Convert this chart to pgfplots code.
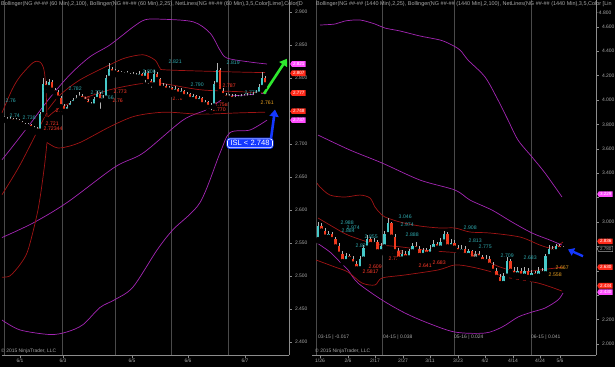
\documentclass[border=0pt]{standalone}
\usepackage{fontspec}
\setmainfont{Liberation Sans}
\usepackage{pgfplots}
\usepackage{pgfplotstable}
\pgfplotsset{compat=1.18}
\usetikzlibrary{shapes.symbols,arrows.meta}

\definecolor{axgray}{HTML}{8C8C8C}
\definecolor{gridgray}{HTML}{4A4A4A}
\definecolor{labgray}{HTML}{A8A8A8}
\definecolor{bandred}{HTML}{A01414}
\definecolor{bandpur}{HTML}{A426B4}
\definecolor{upcol}{HTML}{46CACA}
\definecolor{dncol}{HTML}{F03A1E}
\definecolor{wick}{HTML}{B4B4B4}
\definecolor{lblcyan}{HTML}{2FA9AE}
\definecolor{lblred}{HTML}{FF3A2A}
\definecolor{lblorange}{HTML}{E8A020}
\definecolor{tagmag}{HTML}{FF4DFF}
\definecolor{tagred}{HTML}{FF2A1A}
\definecolor{islblue}{HTML}{1438FF}
\definecolor{limeg}{HTML}{2EE82E}

\newcommand\tfont{\fontsize{5}{6}\selectfont}
\newcommand\hfont{\fontsize{5.5}{6}\selectfont}
\newcommand\gfont{\fontsize{4.6}{5}\selectfont}
\newcommand\lfont{\fontsize{5.2}{6}\selectfont}

\pgfplotstableread{
x o h l c
4 2.740 2.742 2.735 2.738
7 2.738 2.741 2.732 2.735
10 2.735 2.740 2.733 2.737
13 2.737 2.739 2.731 2.734
16 2.734 2.739 2.732 2.736
19 2.736 2.738 2.730 2.733
22 2.733 2.735 2.727 2.730
25 2.730 2.732 2.724 2.727
28 2.727 2.731 2.724 2.728
31 2.728 2.730 2.721 2.724
34 2.724 2.727 2.719 2.722
37 2.722 2.725 2.716 2.720
40 2.720 2.748 2.718 2.745
43 2.745 2.800 2.743 2.790
46 2.790 2.795 2.780 2.786
49 2.786 2.798 2.782 2.794
52 2.794 2.796 2.778 2.782
55 2.782 2.785 2.772 2.778
58 2.778 2.781 2.765 2.770
61 2.770 2.773 2.752 2.757
64 2.757 2.760 2.746 2.750
67 2.750 2.759 2.747 2.756
70 2.756 2.765 2.753 2.762
73 2.762 2.769 2.759 2.766
76 2.766 2.774 2.763 2.770
79 2.770 2.778 2.767 2.773
82 2.773 2.776 2.764 2.768
85 2.768 2.771 2.760 2.765
88 2.765 2.768 2.755 2.760
91 2.760 2.764 2.753 2.758
94 2.758 2.771 2.755 2.768
97 2.768 2.780 2.764 2.776
100 2.776 2.778 2.750 2.766
103 2.766 2.774 2.762 2.770
106 2.770 2.805 2.768 2.800
109 2.800 2.823 2.797 2.813
112 2.813 2.816 2.803 2.808
115 2.808 2.814 2.804 2.810
118 2.810 2.812 2.802 2.806
121 2.806 2.811 2.803 2.807
124 2.807 2.809 2.801 2.805
127 2.805 2.810 2.802 2.806
130 2.806 2.808 2.799 2.803
133 2.803 2.809 2.800 2.805
136 2.805 2.807 2.798 2.802
139 2.802 2.810 2.798 2.806
142 2.806 2.808 2.795 2.800
145 2.800 2.812 2.790 2.808
148 2.808 2.810 2.788 2.795
151 2.795 2.798 2.782 2.790
154 2.790 2.812 2.787 2.806
157 2.806 2.809 2.792 2.798
160 2.798 2.800 2.780 2.785
163 2.785 2.792 2.781 2.788
166 2.788 2.790 2.777 2.782
169 2.782 2.788 2.778 2.784
172 2.784 2.786 2.774 2.779
175 2.779 2.787 2.775 2.783
178 2.783 2.785 2.771 2.776
181 2.776 2.784 2.772 2.780
184 2.780 2.782 2.767 2.772
187 2.772 2.779 2.768 2.775
190 2.775 2.777 2.763 2.768
193 2.768 2.776 2.764 2.772
196 2.772 2.774 2.760 2.765
199 2.765 2.773 2.761 2.769
202 2.769 2.771 2.756 2.760
205 2.760 2.767 2.755 2.763
208 2.763 2.765 2.750 2.756
211 2.756 2.762 2.748 2.758
214 2.758 2.795 2.755 2.790
217 2.790 2.822 2.787 2.812
220 2.812 2.815 2.776 2.780
223 2.780 2.784 2.768 2.774
226 2.774 2.777 2.765 2.770
229 2.770 2.776 2.767 2.772
232 2.772 2.775 2.764 2.768
235 2.768 2.775 2.765 2.771
238 2.771 2.774 2.765 2.769
241 2.769 2.776 2.766 2.772
244 2.772 2.775 2.766 2.770
247 2.770 2.777 2.767 2.773
250 2.773 2.776 2.767 2.771
253 2.771 2.778 2.768 2.774
256 2.774 2.781 2.770 2.776
259 2.776 2.790 2.772 2.786
262 2.786 2.809 2.783 2.800
265 2.800 2.803 2.786 2.790
}\leftdata

\pgfplotstableread{
x o h l c
318.0 2.86 3.00 2.84 2.97
321.5 2.97 2.99 2.90 2.93
325.0 2.93 2.95 2.85 2.88
328.5 2.88 2.93 2.86 2.90
332.0 2.90 2.92 2.83 2.86
335.5 2.86 2.88 2.78 2.80
339.0 2.80 2.83 2.72 2.74
342.5 2.74 2.76 2.66 2.68
346.0 2.68 2.75 2.66 2.72
349.5 2.72 2.74 2.67 2.70
353.0 2.70 2.72 2.63 2.66
356.5 2.66 2.68 2.59 2.62
360.0 2.62 2.72 2.60 2.70
363.5 2.70 2.81 2.68 2.79
367.0 2.79 2.89 2.77 2.86
370.5 2.86 2.88 2.79 2.82
374.0 2.82 2.87 2.80 2.84
377.5 2.84 2.85 2.73 2.76
381.0 2.76 2.83 2.74 2.80
384.5 2.80 2.93 2.78 2.90
388.0 2.90 3.03 2.88 2.99
391.5 2.99 3.00 2.85 2.88
395.0 2.88 2.90 2.74 2.76
398.5 2.76 2.79 2.67 2.70
402.0 2.70 2.77 2.68 2.74
405.5 2.74 2.76 2.69 2.71
409.0 2.71 2.78 2.70 2.76
412.5 2.76 2.83 2.75 2.80
416.0 2.80 2.84 2.76 2.78
419.5 2.78 2.80 2.71 2.73
423.0 2.73 2.79 2.71 2.77
426.5 2.77 2.79 2.72 2.74
430.0 2.74 2.81 2.73 2.78
433.5 2.78 2.85 2.76 2.82
437.0 2.82 2.84 2.77 2.79
440.5 2.79 2.87 2.78 2.84
444.0 2.84 2.93 2.82 2.90
447.5 2.90 2.92 2.78 2.80
451.0 2.80 2.86 2.78 2.83
454.5 2.83 2.85 2.77 2.79
458.0 2.79 2.81 2.73 2.76
461.5 2.76 2.81 2.74 2.78
465.0 2.78 2.80 2.71 2.73
468.5 2.73 2.78 2.71 2.76
472.0 2.76 2.77 2.68 2.70
475.5 2.70 2.76 2.68 2.74
479.0 2.74 2.76 2.69 2.71
482.5 2.71 2.73 2.65 2.68
486.0 2.68 2.73 2.66 2.70
489.5 2.70 2.72 2.63 2.65
493.0 2.65 2.67 2.57 2.60
496.5 2.60 2.62 2.52 2.55
500.0 2.55 2.57 2.47 2.50
503.5 2.50 2.58 2.48 2.56
507.0 2.56 2.71 2.54 2.68
510.5 2.68 2.70 2.58 2.60
514.0 2.60 2.63 2.54 2.57
517.5 2.57 2.63 2.55 2.60
521.0 2.60 2.62 2.53 2.56
524.5 2.56 2.63 2.54 2.60
528.0 2.60 2.62 2.52 2.55
531.5 2.55 2.61 2.53 2.58
535.0 2.58 2.60 2.53 2.56
538.5 2.56 2.63 2.54 2.60
542.0 2.60 2.62 2.55 2.58
545.5 2.58 2.74 2.57 2.72
549.0 2.72 2.81 2.70 2.78
552.5 2.78 2.80 2.74 2.76
556.0 2.76 2.82 2.75 2.80
559.5 2.80 2.82 2.76 2.78
563.0 2.78 2.80 2.76 2.785
}\rightdata

\pgfplotsset{
  /pgf/number format/assume math mode=true,
  panel/.style={
    scale only axis, anchor=south west, height=355bp, clip=false,
    enlargelimits=false,
    axis x line=bottom, axis y line=right,
    axis line style={draw=axgray, line width=0.6bp, -},
    tick style={draw=axgray, line width=0.5bp},
    major tick length=2.5bp, tick align=outside,
    tick label style={font=\tfont, text=labgray},
    y tick label style={/pgf/number format/fixed, /pgf/number format/fixed zerofill, /pgf/number format/precision=3},
    xticklabel style={inner sep=1bp},
    major grid style={draw=gridgray, line width=0.5bp},
    extra x tick style={grid=major, major tick length=0pt},
  },
  band/.style={line width=0.7bp, smooth, tension=0.5},
  wicks/.style={only marks, mark=none, forget plot,
    error bars/.cd, y dir=plus, y explicit, error mark=none,
    error bar style={draw=wick, line width=0.5bp}},
}
\tikzset{
  tag/.style={shape=signal, signal to=west, signal pointer angle=120, anchor=west,
    font=\gfont, text=white, inner sep=0.3bp, inner xsep=1.2bp, minimum height=5.6bp},
  lbl/.style={font=\lfont, anchor=west, inner sep=0.5bp},
}

\begin{document}
\begin{tikzpicture}
\useasboundingbox (0,0) rectangle (615bp,367bp);
\fill[black] (0,0) rectangle (615bp,367bp);

% ---------------- left panel (60 min) ----------------
\begin{axis}[panel, at={(2bp,12bp)}, width=287bp,
  xmin=2, xmax=289, ymin=2.380, ymax=2.918,
  ytick={2.40,2.45,2.50,2.55,2.60,2.65,2.70,2.80,2.85,2.90},
  extra y ticks={2.75}, extra y tick labels={},
  xtick={20,63,132,188,245}, xticklabels={6/1,6/3,6/5,6/6,6/7},
  extra x ticks={4,62,115,171,228}, extra x tick labels={},
]
% Bollinger 100 (purple)
\addplot[bandpur, band] coordinates {(2,2.676)(10,2.691)(30,2.730)(50,2.770)(70,2.805)(90,2.832)(110,2.850)(133,2.877)(145,2.888)(160,2.889)(193,2.885)(210,2.868)(220,2.842)(227,2.830)(250,2.824)(267,2.821)};
\addplot[bandpur, band] coordinates {(2,2.558)(33,2.580)(67,2.611)(115,2.665)(143,2.686)(183,2.736)(207,2.752)(227,2.771)(247,2.774)(267,2.777)};
\addplot[bandpur, band] coordinates {(2,2.433)(20,2.418)(50,2.411)(67,2.415)(83,2.426)(100,2.452)(115,2.464)(133,2.483)(157,2.539)(173,2.570)(200,2.611)(220,2.686)(230,2.717)(250,2.721)(267,2.736)};
% Bollinger 25 (dark red)
\addplot[bandred, band] coordinates {(2,2.747)(12,2.782)(20,2.802)(33,2.823)(40,2.824)(44,2.812)(46,2.782)(47,2.741)};
\addplot[bandred, band] coordinates {(2,2.623)(20,2.668)(43,2.736)(47,2.747)};
\addplot[bandred, band] coordinates {(2,2.498)(10,2.500)(20,2.517)(28,2.539)(38,2.600)(44,2.661)(47,2.702)};
\addplot[bandred, band] coordinates {(47,2.702)(55,2.695)(62,2.694)(80,2.702)(110,2.726)(135,2.742)(165,2.748)(200,2.745)(240,2.747)(265,2.748)};
\addplot[bandred, band] coordinates {(48,2.741)(60,2.755)(80,2.767)(110,2.782)(140,2.791)(160,2.792)(200,2.782)(240,2.779)(265,2.777)};
\addplot[bandred, band] coordinates {(48,2.752)(60,2.774)(80,2.797)(110,2.820)(125,2.830)(143,2.835)(155,2.827)(160,2.815)(167,2.812)(233,2.809)(265,2.808)};
% candles
\addplot[wicks] table[x=x, y=l, y error expr=\thisrow{h}-\thisrow{l}] \leftdata;
\addplot[only marks, mark=none, forget plot,
  restrict expr to domain={\thisrow{c}-\thisrow{o}}{0:1},
  error bars/.cd, y dir=plus, y explicit, error mark=none,
  error bar style={draw=upcol, line width=2bp}]
  table[x=x, y=o, y error expr=\thisrow{c}-\thisrow{o}] \leftdata;
\addplot[only marks, mark=none, forget plot,
  restrict expr to domain={\thisrow{o}-\thisrow{c}}{0.0001:1},
  error bars/.cd, y dir=plus, y explicit, error mark=none,
  error bar style={draw=dncol, line width=2bp}]
  table[x=x, y=c, y error expr=\thisrow{o}-\thisrow{c}] \leftdata;
% level labels
\node[lbl, text=lblcyan] at (axis cs:5,2.766) {2.76};
\node[lbl, text=lblcyan] at (axis cs:9,2.742) {2.74};
\node[lbl, text=lblcyan] at (axis cs:22,2.740) {2.738};
\node[lbl, text=lblcyan] at (axis cs:68,2.784) {2.782};
\node[lbl, text=lblcyan] at (axis cs:90,2.778) {2.774};
\node[lbl, text=lblcyan] at (axis cs:100,2.770) {2.766};
\node[lbl, text=lblcyan] at (axis cs:142,2.810) {2.806};
\node[lbl, text=lblcyan] at (axis cs:168,2.824) {2.821};
\node[lbl, text=lblcyan] at (axis cs:190,2.789) {2.790};
\node[lbl, text=lblcyan] at (axis cs:226,2.823) {2.819};
\node[lbl, text=lblcyan] at (axis cs:244,2.777) {2.778};
\node[lbl, text=lblred] at (axis cs:55,2.750) {2.748};
\node[lbl, text=lblred] at (axis cs:76,2.768) {2.762};
\node[lbl, text=lblred] at (axis cs:113,2.779) {2.773};
\node[lbl, text=lblred] at (axis cs:112,2.766) {2.76};
\node[lbl, text=lblred] at (axis cs:45,2.730) {2.721};
\node[lbl, text=lblred] at (axis cs:43,2.723) {2.72344};
\node[lbl, text=lblred] at (axis cs:172,2.768) {2.766};
\node[lbl, text=lblred] at (axis cs:222,2.788) {2.787};
\node[lbl, text=lblred] at (axis cs:214,2.760) {2.758};
\node[lbl, text=lblred] at (axis cs:212,2.752) {2.770};
\node[lbl, text=lblorange] at (axis cs:260,2.763) {2.761};
% arrows and ISL box
\draw[limeg, line width=2.6bp, -{Triangle[width=9bp,length=7bp]}] (axis cs:264,2.776) -- (axis cs:287,2.829);
\draw[islblue, line width=2.6bp, -{Triangle[width=9bp,length=7bp]}] (axis cs:271,2.708) -- (axis cs:275,2.752);
\node[fill=islblue, draw=islblue, double=white, double distance=0.6bp, line width=0.9bp,
  rounded corners=2.5bp, text=white, font=\fontsize{7.6}{8}\selectfont, inner xsep=3bp, inner ysep=1.8bp]
  at (axis cs:250,2.7008) {ISL < 2.748};
% tag anchors
\coordinate (La) at (axis cs:290,2.821);
\coordinate (Lb) at (axis cs:290,2.807);
\coordinate (Lc) at (axis cs:290,2.777);
\coordinate (Ld) at (axis cs:290,2.7495);
\coordinate (Le) at (axis cs:290,2.736);
\end{axis}
\node[tag, fill=tagmag] at (La) {2.821};
\node[tag, fill=tagred] at (Lb) {2.807};
\node[tag, fill=tagred] at (Lc) {2.777};
\node[tag, fill=tagred] at (Ld) {2.748};
\node[tag, fill=tagmag] at (Le) {2.737};

% ---------------- right panel (1440 min) ----------------
\begin{axis}[panel, at={(312bp,12bp)}, width=284bp,
  xmin=312, xmax=596, ymin=1.910, ymax=4.820,
  ytick={2.0,2.2,3.0,3.4,3.6,3.8,4.0,4.2,4.4,4.6},
  extra y ticks={2.4,2.6,2.8,3.2}, extra y tick labels={},
  xtick={320,348,375,403,430,458,485,513,540,560},
  xticklabels={1/26,2/6,2/17,2/27,3/11,3/23,4/2,4/14,4/24,5/6},
  extra x ticks={316,382,454,531}, extra x tick labels={},
]
\addplot[bandpur, band] coordinates {(320,4.615)(335,4.623)(345,4.648)(360,4.656)(375,4.623)(385,4.590)(400,4.566)(420,4.525)(440,4.492)(450,4.459)(460,4.410)(468,4.328)(485,4.189)(498,4.000)(508,3.836)(518,3.672)(532,3.533)(545,3.402)(562,3.205)};
\addplot[bandpur, band] coordinates {(318,3.713)(350,3.590)(382,3.484)(420,3.344)(455,3.262)(470,3.180)(492,3.098)(512,3.000)(532,2.910)(550,2.852)(562,2.811)};
\addplot[bandpur, band] coordinates {(317,2.828)(330,2.754)(340,2.672)(348,2.607)(358,2.500)(382,2.361)(405,2.254)(428,2.172)(455,2.098)(485,2.090)(502,2.139)(518,2.221)(532,2.262)(545,2.295)(558,2.361)(563,2.418)};
\addplot[bandred, band] coordinates {(317,3.320)(320,3.287)(330,3.221)(345,3.205)(360,3.221)(370,3.197)(375,3.123)(380,3.074)(385,3.041)(400,3.000)(420,2.967)(440,2.951)(455,2.951)(470,2.918)(490,2.910)(520,2.877)(540,2.811)(552,2.787)(563,2.836)};
\addplot[bandred, band] coordinates {(318,3.033)(335,2.951)(348,2.893)(368,2.836)(382,2.811)(402,2.795)(425,2.770)(448,2.754)(465,2.746)(480,2.705)(500,2.631)(520,2.590)(540,2.607)(563,2.631)};
\addplot[bandred, band] coordinates {(316,2.689)(335,2.631)(348,2.590)(362,2.500)(375,2.484)(382,2.541)(405,2.566)(438,2.607)(455,2.648)(472,2.631)(492,2.590)(505,2.549)(538,2.500)(562,2.434)};
\addplot[wicks] table[x=x, y=l, y error expr=\thisrow{h}-\thisrow{l}] \rightdata;
\addplot[only marks, mark=none, forget plot,
  restrict expr to domain={\thisrow{c}-\thisrow{o}}{0:5},
  error bars/.cd, y dir=plus, y explicit, error mark=none,
  error bar style={draw=upcol, line width=2.5bp}]
  table[x=x, y=o, y error expr=\thisrow{c}-\thisrow{o}] \rightdata;
\addplot[only marks, mark=none, forget plot,
  restrict expr to domain={\thisrow{o}-\thisrow{c}}{0.0001:5},
  error bars/.cd, y dir=plus, y explicit, error mark=none,
  error bar style={draw=dncol, line width=2.5bp}]
  table[x=x, y=c, y error expr=\thisrow{o}-\thisrow{c}] \rightdata;
\node[lbl, text=lblcyan] at (axis cs:340,2.992) {2.988};
\node[lbl, text=lblcyan] at (axis cs:346,2.955) {2.974};
\node[lbl, text=lblcyan] at (axis cs:341,2.925) {2.884};
\node[lbl, text=lblcyan] at (axis cs:398,3.046) {3.046};
\node[lbl, text=lblcyan] at (axis cs:400,2.975) {2.974};
\node[lbl, text=lblcyan] at (axis cs:405,2.900) {2.888};
\node[lbl, text=lblcyan] at (axis cs:364,2.880) {2.855};
\node[lbl, text=lblcyan] at (axis cs:355,2.805) {2.827};
\node[lbl, text=lblcyan] at (axis cs:463,2.950) {2.908};
\node[lbl, text=lblcyan] at (axis cs:468,2.845) {2.813};
\node[lbl, text=lblcyan] at (axis cs:478,2.795) {2.775};
\node[lbl, text=lblcyan] at (axis cs:500,2.725) {2.709};
\node[lbl, text=lblcyan] at (axis cs:523,2.705) {2.683};
\node[lbl, text=lblred] at (axis cs:368,2.635) {2.609};
\node[lbl, text=lblred] at (axis cs:362,2.590) {2.5817};
\node[lbl, text=lblred] at (axis cs:392,2.745) {2.72};
\node[lbl, text=lblred] at (axis cs:388,2.700) {2.723};
\node[lbl, text=lblred] at (axis cs:418,2.640) {2.641};
\node[lbl, text=lblred] at (axis cs:432,2.665) {2.683};
\node[lbl, text=lblred] at (axis cs:466,2.720) {2.691};
\node[lbl, text=lblorange] at (axis cs:555,2.625) {2.667};
\node[lbl, text=lblorange] at (axis cs:548,2.565) {2.558};
\node[font=\tfont, text=labgray, anchor=west, inner sep=0] at (axis cs:318,2.057) {03-15 | -0.017};
\node[font=\tfont, text=labgray, anchor=west, inner sep=0] at (axis cs:383,2.057) {04-15 | 0.038};
\node[font=\tfont, text=labgray, anchor=west, inner sep=0] at (axis cs:454,2.057) {05-16 | 0.024};
\node[font=\tfont, text=labgray, anchor=west, inner sep=0] at (axis cs:531,2.057) {06-15 | 0.041};
\draw[islblue, line width=2.4bp, -{Triangle[width=8bp,length=6bp]}] (axis cs:583,2.72) -- (axis cs:568,2.775);
\coordinate (Ra) at (axis cs:597,3.229);
\coordinate (Rb) at (axis cs:597,2.842);
\coordinate (Rc) at (axis cs:597,2.780);
\coordinate (Rd) at (axis cs:597,2.630);
\coordinate (Re) at (axis cs:597,2.478);
\coordinate (Rf) at (axis cs:597,2.425);
\end{axis}
\node[tag, fill=tagmag] at (Ra) {3.229};
\node[tag, fill=tagred] at (Rb) {2.836};
\node[tag, fill=black, draw=labgray, line width=0.4bp, text=labgray] at (Rc) {2.780};
\node[tag, fill=tagred] at (Rd) {2.630};
\node[tag, fill=tagred] at (Re) {2.434};
\node[tag, fill=tagmag] at (Rf) {2.430};
\node[font=\tfont, text=labgray, anchor=west, inner sep=0] at (597bp,354bp) {-4.800};

% headers and copyright
\node[anchor=north west, font=\hfont, text=labgray, inner sep=0] at (1bp,365.5bp)
  {Bollinger(NG \#\#-\#\# (60 Min),2,100), Bollinger(NG \#\#-\#\# (60 Min),2,25), NetLines(NG \#\#-\#\# (60 Min),3,5,Color[Lime],Color[D};
\node[anchor=north west, font=\hfont, text=labgray, inner sep=0] at (316bp,365.5bp)
  {Bollinger(NG \#\#-\#\# (1440 Min),2,25), Bollinger(NG \#\#-\#\# (1440 Min),2,100), NetLines(NG \#\#-\#\# (1440 Min),3,5,Color [Lin};
\node[anchor=south west, font=\tfont, text=labgray, inner sep=0] at (1bp,13bp) {\textcopyright{} 2015 NinjaTrader, LLC};
\node[anchor=south west, font=\tfont, text=labgray, inner sep=0] at (315bp,13bp) {\textcopyright{} 2015 NinjaTrader, LLC};
\end{tikzpicture}
\end{document}
